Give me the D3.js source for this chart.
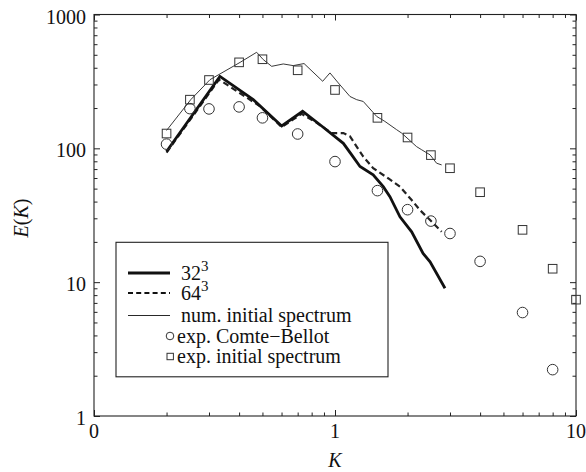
<!DOCTYPE html>
<html>
<head>
<meta charset="utf-8">
<script src="https://cdn.jsdelivr.net/npm/d3@7"></script>
<style>
  body { margin: 0; background: #fff; }
  svg { display: block; }
  .axis path { display: none; }
  .axis line { stroke: #222; }
</style>
</head>
<body>
<svg id="chart" width="586" height="472"></svg>
<script>
"use strict";

// ticks
var xMajor = [0.1, 1, 10];
var xLabels = ["0", "1", "10"];
var yMajor = [1, 10, 100, 1000];
var yLabels = ["1", "10", "100", "1000"];

// 32^3 run
var k32 = [0.2, 0.333, 0.458, 0.601, 0.734, 0.867, 1.083, 1.173, 1.27, 1.44, 1.586, 1.69, 1.86, 2.08, 2.32, 2.48, 2.86];
var e32 = [94.6, 345, 231, 147, 189, 150, 109, 89.4, 73.1, 63.3, 51.7, 43.5, 30.8, 23.8, 16.4, 14.2, 9.0];

// 64^3 run
var k64 = [0.2, 0.330, 0.356, 0.489, 0.601, 0.727, 0.84, 0.969, 1.083, 1.154, 1.23, 1.31, 1.44, 1.66, 1.86, 2.08, 2.25, 2.48, 2.77];
var e64 = [93, 326, 299, 206, 144, 181, 155, 130, 130, 123, 103, 86.8, 71.1, 59.8, 51.7, 41.1, 34.6, 29.1, 23.8];

// numerical initial spectrum
var kInit = [0.2, 0.252, 0.303, 0.404, 0.473, 0.504, 0.546, 0.610, 0.671, 0.744, 0.889, 0.953, 1.032, 1.154, 1.23, 1.31, 1.49, 1.61, 1.80, 1.89, 2.18, 2.29, 2.48, 2.64, 2.77];
var eInit = [136, 231, 326, 439, 522, 460, 410, 427, 415, 430, 317, 366, 308, 244, 231, 224, 173, 159, 138, 130, 103, 97.5, 89.4, 77.4, 75.2];

// experiment, Comte-Bellot
var kExp = [0.2, 0.25, 0.3, 0.4, 0.5, 0.7, 1, 1.5, 2, 2.5, 3, 4, 6, 8];
var eExp = [107.5, 198, 197, 204, 169, 128, 79.6, 48.3, 34.8, 28.6, 23.1, 14.3, 5.93, 2.22];

// experiment, initial spectrum
var kExpInit = [0.2, 0.25, 0.3, 0.4, 0.5, 0.7, 1, 1.5, 2, 2.5, 3, 4, 6, 8, 10];
var eExpInit = [129, 231, 324, 439, 463, 383, 273, 169, 120.5, 89, 71, 47, 24.6, 12.6, 7.4];

var FONT = "'Liberation Serif'";

var svg = d3.select("#chart");
var pLeft = 94, pRight = 576, pTop = 14.5, pBottom = 416;

var x = d3.scaleLog().domain([0.1, 10]).range([pLeft, pRight]);
var y = d3.scaleLog().domain([1, 1000]).range([pBottom, pTop]);

function minors(lo, hi) {
  var out = [];
  for (var d = lo; d < hi; d *= 10) {
    for (var m = 2; m <= 9; m++) out.push(d * m);
  }
  return out;
}
var xMinor = minors(0.1, 10);
var yMinor = minors(1, 1000);

// serif text helper
function label(parent, size) {
  return parent.append("text")
    .style("font-family", FONT)
    .attr("font-size", size)
    .attr("fill", "#111");
}

// ticks, inward on all four sides
function tickGroup(axis, tf) {
  svg.append("g").attr("class", "axis").attr("transform", tf).call(axis)
    .selectAll("text").remove();
}
tickGroup(d3.axisBottom(x).tickValues(xMajor).tickSize(-6), "translate(0," + pBottom + ")");
tickGroup(d3.axisBottom(x).tickValues(xMinor).tickSize(-3.5), "translate(0," + pBottom + ")");
tickGroup(d3.axisTop(x).tickValues(xMajor).tickSize(-6), "translate(0," + pTop + ")");
tickGroup(d3.axisTop(x).tickValues(xMinor).tickSize(-3.5), "translate(0," + pTop + ")");
tickGroup(d3.axisLeft(y).tickValues(yMajor).tickSize(-6), "translate(" + pLeft + ",0)");
tickGroup(d3.axisLeft(y).tickValues(yMinor).tickSize(-3.5), "translate(" + pLeft + ",0)");
tickGroup(d3.axisRight(y).tickValues(yMajor).tickSize(-6), "translate(" + pRight + ",0)");
tickGroup(d3.axisRight(y).tickValues(yMinor).tickSize(-3.5), "translate(" + pRight + ",0)");

svg.append("rect")
  .attr("x", pLeft).attr("y", pTop)
  .attr("width", pRight - pLeft).attr("height", pBottom - pTop)
  .attr("fill", "none").attr("stroke", "#222").attr("stroke-width", 1.1);

// tick labels
xMajor.forEach(function(d, i) {
  label(svg, 20)
    .attr("x", x(d)).attr("y", pBottom + 22)
    .attr("text-anchor", "middle")
    .text(xLabels[i]);
});

yMajor.forEach(function(d, i) {
  label(svg, 20)
    .attr("x", pLeft - 8).attr("y", y(d) + 9)
    .attr("text-anchor", "end")
    .text(yLabels[i]);
});

// axis titles
label(svg, 20)
  .attr("x", 335).attr("y", 467)
  .attr("text-anchor", "middle")
  .attr("font-style", "italic")
  .text("K");

var yt = label(svg, 20)
  .attr("transform", "translate(28,218) rotate(-90)")
  .attr("text-anchor", "middle");
yt.append("tspan").attr("font-style", "italic").text("E");
yt.append("tspan").text("(");
yt.append("tspan").attr("font-style", "italic").text("K");
yt.append("tspan").text(")");

// lines
var line = d3.line()
  .x(function(d) { return x(d[0]); })
  .y(function(d) { return y(d[1]); });

svg.append("path")
  .datum(d3.zip(kInit, eInit))
  .attr("d", line)
  .attr("fill", "none").attr("stroke", "#222").attr("stroke-width", 0.9);

svg.append("path")
  .datum(d3.zip(k64, e64))
  .attr("d", line)
  .attr("fill", "none").attr("stroke", "#222").attr("stroke-width", 2.2)
  .attr("stroke-dasharray", "6,3.5");

svg.append("path")
  .datum(d3.zip(k32, e32))
  .attr("d", line)
  .attr("fill", "none").attr("stroke", "#111").attr("stroke-width", 2.8)
  .attr("stroke-linejoin", "miter");

// markers
svg.selectAll(".circ").data(d3.zip(kExp, eExp)).enter().append("circle")
  .attr("cx", function(d) { return x(d[0]); })
  .attr("cy", function(d) { return y(d[1]); })
  .attr("r", 5.3)
  .attr("fill", "none").attr("stroke", "#333").attr("stroke-width", 1);

svg.selectAll(".sq").data(d3.zip(kExpInit, eExpInit)).enter().append("rect")
  .attr("x", function(d) { return x(d[0]) - 4.3; })
  .attr("y", function(d) { return y(d[1]) - 4.3; })
  .attr("width", 8.6).attr("height", 8.6)
  .attr("fill", "none").attr("stroke", "#333").attr("stroke-width", 1);

// legend
var lg = svg.append("g");
lg.append("rect")
  .attr("x", 116).attr("y", 242.3)
  .attr("width", 272).attr("height", 134.5)
  .attr("fill", "#fff").attr("stroke", "#222").attr("stroke-width", 1.1);

var legendItems = [
  { kind: "thick", base: "32", sup: "3", y: 273 },
  { kind: "dash", base: "64", sup: "3", y: 293 },
  { kind: "thin", base: "num. initial spectrum", sup: "", y: 315.5 },
  { kind: "circle", base: "exp. Comte\u2212Bellot", sup: "", y: 336 },
  { kind: "square", base: "exp. initial spectrum", sup: "", y: 356.5 }
];

legendItems.forEach(function(it) {
  if (it.kind === "thick" || it.kind === "dash" || it.kind === "thin") {
    var l = lg.append("line")
      .attr("x1", 128).attr("x2", 170)
      .attr("y1", it.y).attr("y2", it.y)
      .attr("stroke", "#111");
    if (it.kind === "thick") l.attr("stroke-width", 2.8);
    if (it.kind === "dash") l.attr("stroke-width", 2.2).attr("stroke-dasharray", "5,3.2");
    if (it.kind === "thin") l.attr("stroke-width", 0.9);
  } else if (it.kind === "circle") {
    lg.append("circle").attr("cx", 170).attr("cy", it.y).attr("r", 3.8)
      .attr("fill", "none").attr("stroke", "#333").attr("stroke-width", 1);
  } else {
    lg.append("rect").attr("x", 167).attr("y", it.y - 3.2).attr("width", 6.4).attr("height", 6.4)
      .attr("fill", "none").attr("stroke", "#333").attr("stroke-width", 1);
  }
  var tx = (it.kind === "circle" || it.kind === "square") ? 177 : 181;
  var t = label(lg, 20)
    .attr("x", tx).attr("y", it.y + 6.5)
    .text(it.base);
  if (it.sup) {
    t.append("tspan").attr("dy", -9).attr("font-size", 15).text(it.sup);
  }
});
</script>
</body>
</html>
